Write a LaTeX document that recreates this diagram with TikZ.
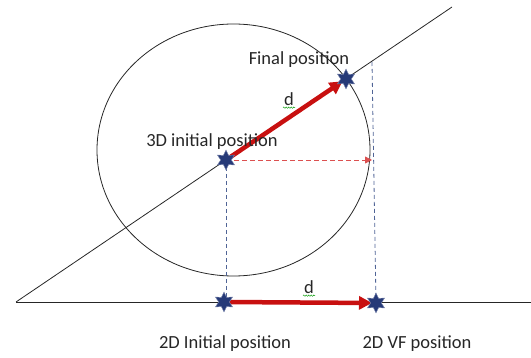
\documentclass[tikz,border=0pt]{standalone}
\usepackage{fontspec}
\setmainfont{Carlito}
\usetikzlibrary{shapes.geometric,arrows.meta,decorations.pathmorphing,backgrounds}
\definecolor{starblue}{RGB}{38,58,120}
\definecolor{vecred}{RGB}{200,16,16}
\definecolor{dashblue}{RGB}{80,100,150}
\definecolor{dashred}{RGB}{220,80,80}
\begin{document}
\begin{tikzpicture}[x=1pt, y=-1pt,
    place/.style={star, star points=6, star point ratio=1.9, fill=starblue, draw=starblue!60, inner sep=0pt, minimum size=20pt},
    vec/.style={-{Triangle[length=13pt, width=13pt]}, vecred, line width=4.5pt, shorten >=4pt},
    guide/.style={dashblue, line width=0.8pt, dash pattern=on 4pt off 3pt},
    proj/.style={-{Triangle[length=7pt, width=7pt]}, dashred, line width=0.8pt, dash pattern=on 5pt off 3pt},
    axis/.style={line width=0.8pt, black!85},
    lbl/.style={font=\fontsize{18.5}{21}\selectfont, text=black!85, inner sep=1pt},
    spell/.style={green!60!black, decorate, decoration={snake, amplitude=0.7pt, segment length=2.5pt}}
]
    \useasboundingbox (0,0) rectangle (531,358);
    \coordinate (lo) at (16,302);
    \coordinate (hi) at (452,7);
    \coordinate (far) at (531,302);
    % positions
    \node[place] (init3d) at (226,160) {};
    \node[place] (final) at (346,79) {};
    \node[place] (init2d) at (224,302) {};
    \node[place] (vf2d) at (376,303) {};
    \coordinate (top) at (372,62);
    \coordinate (edge) at (372,160);
    \coordinate (foot) at (226,302);
    % axes, circle and projections, kept under the stars
    \begin{pgfonlayer}{background}
    \draw[axis] (lo) -- (hi);
    \draw[axis] (lo) -- (far);
    \draw[axis] (233.5,150) ellipse [x radius=136.5, y radius=126];
    \draw[guide] (init3d.center) -- (foot);
    \draw[guide] (top) -- (vf2d.center);
    \draw[proj] (init3d.center) -- (edge);
    \draw[vec] (init3d.center) -- (final.center);
    \draw[vec] (init2d.center) -- (vf2d.center);
    \end{pgfonlayer}
    % labels
    \node[lbl] (lfinal) at (299,60) {Final position};
    \node[lbl] (l3d) at (212,142) {3D initial position};
    \node[lbl] (d1) at (289,99) {d};
    \node[lbl] (d2) at (309,287) {d};
    \draw[spell] ([yshift=-1pt]d1.south west) -- ([yshift=-1pt]d1.south east);
    \draw[spell] ([yshift=-1pt]d2.south west) -- ([yshift=-1pt]d2.south east);
    \node[lbl] (l2d) at (225,344) {2D Initial position};
    \node[lbl] (lvf) at (417,344) {2D VF position};
\end{tikzpicture}
\end{document}
